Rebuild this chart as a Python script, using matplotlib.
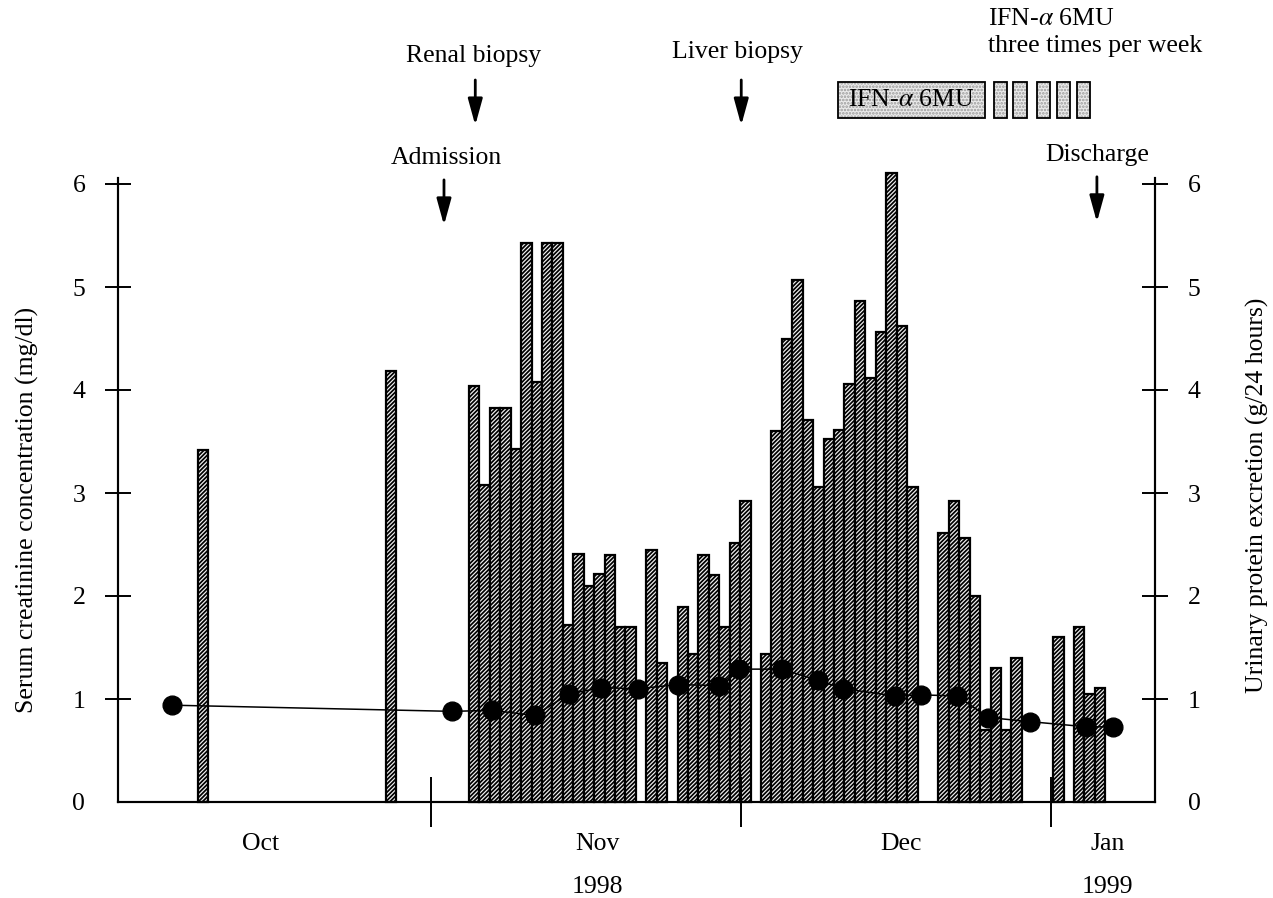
import matplotlib
matplotlib.use("Agg")
import matplotlib.pyplot as plt
from matplotlib.patches import Rectangle

plt.rcParams['font.family'] = ['Liberation Serif', 'DejaVu Serif']
plt.rcParams['mathtext.fontset'] = 'stix'
plt.rcParams['hatch.linewidth'] = 1.25

# ---------------- data ----------------
# day index (days counted from the start of the plotted period)
protein_days = [8, 26,
                34, 35, 36, 37, 38, 39, 40, 41, 42,
                43, 44, 45, 46, 47, 48, 49,
                51, 52,
                54, 55, 56, 57, 58, 59, 60,
                62, 63, 64, 65, 66, 67, 68, 69, 70, 71, 72, 73, 74, 75, 76,
                79, 80, 81, 82, 83, 84, 85, 86,
                90,
                92, 93, 94]
protein = [3.42, 4.18,
           4.04, 3.08, 3.83, 3.83, 3.43, 5.43, 4.08, 5.43, 5.43,
           1.72, 2.41, 2.10, 2.21, 2.40, 1.70, 1.70,
           2.45, 1.35,
           1.89, 1.44, 2.40, 2.20, 1.70, 2.51, 2.92,
           1.44, 3.60, 4.50, 5.07, 3.71, 3.06, 3.52, 3.61, 4.06, 4.86, 4.12, 4.56, 6.11, 4.62, 3.06,
           2.61, 2.92, 2.56, 2.00, 0.70, 1.30, 0.70, 1.40,
           1.60,
           1.70, 1.05, 1.11]

creatinine_days = [5.5, 32.4, 36.2, 40.3, 43.6, 46.7, 50.2, 54.0, 58.0, 59.9,
                   64.0, 67.5, 69.9, 74.8, 77.3, 80.8, 83.8, 87.8, 93.2, 95.7]
creatinine = [0.94, 0.88, 0.89, 0.84, 1.05, 1.11, 1.10, 1.14, 1.13, 1.29,
              1.29, 1.18, 1.10, 1.03, 1.04, 1.03, 0.82, 0.78, 0.73, 0.73]

y_ticks = [0, 1, 2, 3, 4, 5, 6]
month_boundaries = [30.35, 60.07, 89.8]
month_labels = ['Oct', 'Nov', 'Dec', 'Jan']
month_label_days = [14.0, 46.3, 75.4, 95.2]
year_labels = ['1998', '1999']
year_label_days = [46.3, 95.2]

events = ['Admission', 'Renal biopsy', 'Liver biopsy', 'Discharge']
event_days = [31.6, 34.6, 60.1, 94.2]

ifn_daily_span = (69.4, 83.5)
ifn_tiw_days = [84.3, 86.2, 88.5, 90.4, 92.3]
ifn_tiw_width = 1.25

# ---------------- figure ----------------
W, H = 1273, 898
fig = plt.figure(figsize=(W / 100, H / 100), dpi=100)
ax = fig.add_axes([118 / W, 96 / H, 1037 / W, 638.6 / H])
ax2 = ax.twinx()
ax.set_zorder(ax2.get_zorder() + 1)
ax.patch.set_visible(False)

for a in (ax, ax2):
    a.set_xlim(0.345, 99.77)
    a.set_ylim(0, 6.2)
    a.spines['top'].set_visible(False)
    for s in ('left', 'right', 'bottom'):
        a.spines[s].set_linewidth(1.5)
    a.spines['left'].set_bounds(0, 6.06)
    a.spines['right'].set_bounds(0, 6.06)

# protein bars (right axis)
ax2.bar(protein_days, protein, width=1.0, align='edge', facecolor='#f2f2f2',
        edgecolor='black', hatch='////////', linewidth=1.6, clip_on=False, zorder=2)

# creatinine (left axis)
ax.plot(creatinine_days, creatinine, '-', color='black', lw=1.1, zorder=3)
ax.plot(creatinine_days, creatinine, 'o', color='black', ms=13.5, zorder=4, clip_on=False)

# y axes ticks
ax.set_yticks(y_ticks)
ax.set_yticklabels([str(v) for v in y_ticks])
ax.tick_params(axis='y', direction='inout', length=19, width=1.4, labelsize=18.5, pad=14)
ax2.set_yticks(y_ticks)
ax2.set_yticklabels([str(v) for v in y_ticks])
ax2.tick_params(axis='y', direction='inout', length=19, width=1.4, labelsize=18.5, pad=14)
ax.yaxis.get_major_ticks()[0].tick1line.set_visible(False)
ax2.yaxis.get_major_ticks()[0].tick2line.set_visible(False)

# x axis ticks at month boundaries
ax.set_xticks(month_boundaries)
ax.set_xticklabels([])
ax.tick_params(axis='x', direction='inout', length=36, width=1.4)

for lab, d in zip(month_labels, month_label_days):
    ax.text(d, -0.41, lab, ha='center', va='center', fontsize=18.5, clip_on=False)
for lab, d in zip(year_labels, year_label_days):
    ax.text(d, -0.83, lab, ha='center', va='center', fontsize=18.5, clip_on=False)

fig.text(27 / W, 1 - 510 / H, 'Serum creatinine concentration (mg/dl)',
         rotation=90, ha='center', va='center', fontsize=18.5)
fig.text(1257 / W, 1 - 495 / H, 'Urinary protein excretion (g/24 hours)',
         rotation=90, ha='center', va='center', fontsize=18.5)

# event annotations
ev_text_y = {'Admission': 6.25, 'Renal biopsy': 7.24, 'Liver biopsy': 7.28, 'Discharge': 6.28}
ev_arrow = {'Admission': (6.04, 5.60), 'Renal biopsy': (7.01, 6.57),
            'Liver biopsy': (7.01, 6.57), 'Discharge': (6.07, 5.63)}
ev_text_dx = {'Admission': 0.2, 'Renal biopsy': -0.2, 'Liver biopsy': -0.4, 'Discharge': 0.0}
for name, d in zip(events, event_days):
    ax.text(d + ev_text_dx[name], ev_text_y[name], name, ha='center', va='center',
            fontsize=18.5, clip_on=False)
    y0, y1 = ev_arrow[name]
    ax.annotate('', xy=(d, y1), xytext=(d, y0), annotation_clip=False,
                arrowprops=dict(arrowstyle='-|>,head_length=0.8,head_width=0.22',
                                mutation_scale=20, lw=2.0, color='black',
                                shrinkA=0, shrinkB=0))

# IFN treatment boxes
box_y0, box_y1 = 6.64, 6.99
def stipple_box(x0, w):
    ax.add_patch(Rectangle((x0, box_y0), w, box_y1 - box_y0, facecolor='#ebebeb',
                           edgecolor='#9a9a9a', hatch='.....', linewidth=0,
                           clip_on=False, zorder=3))
    ax.add_patch(Rectangle((x0, box_y0), w, box_y1 - box_y0, facecolor='none',
                           edgecolor='black', linewidth=1.3, clip_on=False, zorder=4))

stipple_box(ifn_daily_span[0], ifn_daily_span[1] - ifn_daily_span[0])
for d in ifn_tiw_days:
    stipple_box(d, ifn_tiw_width)
ax.text((ifn_daily_span[0] + ifn_daily_span[1]) / 2, (box_y0 + box_y1) / 2,
        r'IFN-$\alpha$ 6MU', ha='center', va='center', fontsize=18.5,
        clip_on=False, zorder=5)
ax.text(83.8, 7.60, r'IFN-$\alpha$ 6MU', ha='left', va='center', fontsize=18.5, clip_on=False)
ax.text(83.8, 7.34, 'three times per week', ha='left', va='center', fontsize=18.5, clip_on=False)

fig.savefig('out.png', dpi=100)
